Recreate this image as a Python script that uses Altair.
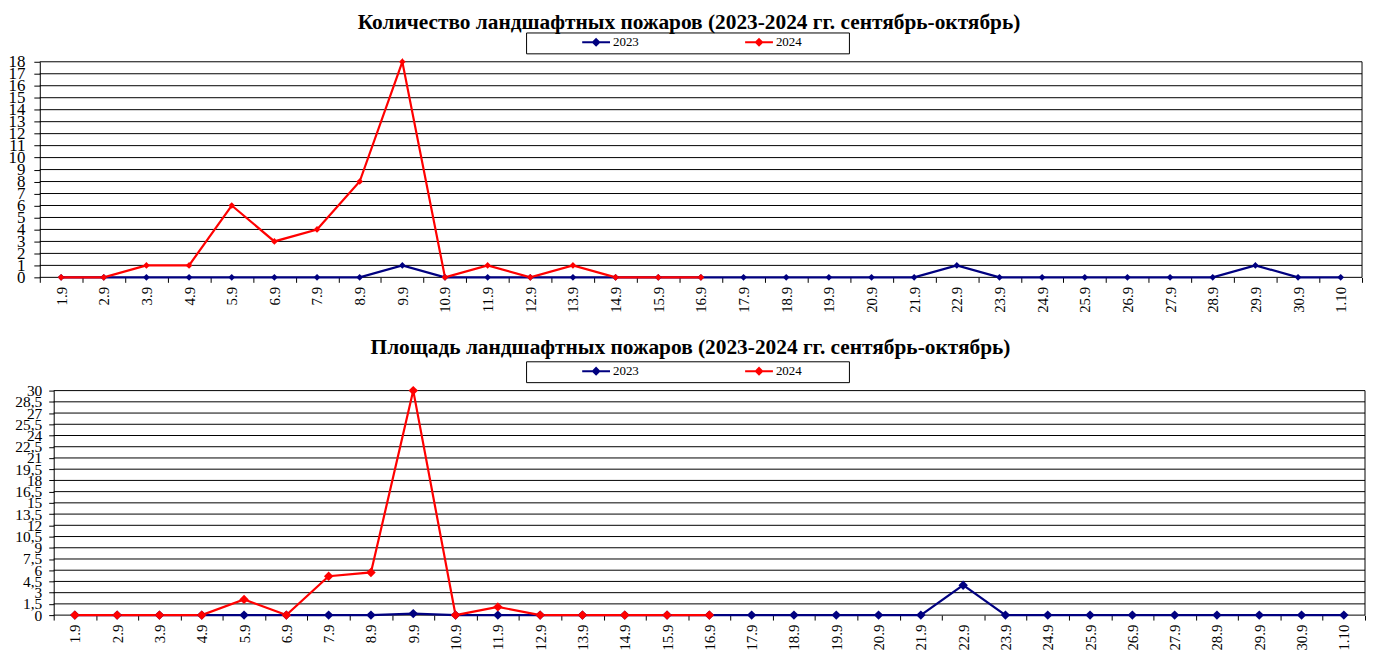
import altair as alt
import pandas as pd

days = ["1.9", "2.9", "3.9", "4.9", "5.9", "6.9", "7.9", "8.9", "9.9", "10.9",
        "11.9", "12.9", "13.9", "14.9", "15.9", "16.9", "17.9", "18.9", "19.9", "20.9",
        "21.9", "22.9", "23.9", "24.9", "25.9", "26.9", "27.9", "28.9", "29.9", "30.9",
        "1.10"]

series = ["2023", "2024"]
colors = ["#000080", "#FF0000"]

count_2023 = [0, 0, 0, 0, 0, 0, 0, 0, 1, 0,
              0, 0, 0, 0, 0, 0, 0, 0, 0, 0,
              0, 1, 0, 0, 0, 0, 0, 0, 1, 0,
              0]
count_2024 = [0, 0, 1, 1, 6, 3, 4, 8, 18, 0, 1, 0, 1, 0, 0, 0]

area_2023 = [0, 0, 0, 0, 0, 0, 0, 0, 0.2, 0,
             0, 0, 0, 0, 0, 0, 0, 0, 0, 0,
             0, 4.0, 0, 0, 0, 0, 0, 0, 0, 0,
             0]
area_2024 = [0, 0, 0, 0, 2.1, 0, 5.2, 5.7, 30, 0, 1.1, 0, 0, 0, 0, 0]

count_ticks = [0, 1, 2, 3, 4, 5, 6, 7, 8, 9, 10, 11, 12, 13, 14, 15, 16, 17, 18]
area_ticks = [0, 1.5, 3, 4.5, 6, 7.5, 9, 10.5, 12, 13.5, 15, 16.5, 18, 19.5, 21,
              22.5, 24, 25.5, 27, 28.5, 30]

title_count = "Количество ландшафтных пожаров (2023-2024 гг. сентябрь-октябрь)"
title_area = "Площадь ландшафтных пожаров (2023-2024 гг. сентябрь-октябрь)"

SERIF = "Liberation Serif"


def frame(v2023, v2024):
    rows = []
    for i, v in enumerate(v2023):
        rows.append({"day": days[i], "idx": i, "series": "2023", "value": v})
    for i, v in enumerate(v2024):
        rows.append({"day": days[i], "idx": i, "series": "2024", "value": v})
    return pd.DataFrame(rows)


def panel(df, title, ticks, ymax, width, height, shift, yfont, ypad, ytick,
          msize, legx, legy, title_offset):
    # shift: horizontal gap (px) between the group origin and the plot's left edge
    legend = alt.Legend(
        title=None, orient="none", legendX=legx, legendY=legy,
        direction="horizontal", padding=4, symbolOffset=58, columnPadding=55,
        labelOffset=9, labelFont=SERIF, labelFontSize=13, labelColor="black",
        symbolType="M-2,0L2,0M0,-0.45L0.45,0L0,0.45L-0.45,0Z",
        symbolSize=196, symbolStrokeWidth=2,
    )
    yscale = alt.Scale(domain=[0, ymax], nice=False, zero=True)
    yaxis = alt.Axis(title=None, values=ticks, labelFont=SERIF,
                     labelFontSize=yfont, labelColor="black",
                     labelPadding=ypad, tickSize=ytick, tickColor="black",
                     domainColor="black", grid=False, offset=-shift,
                     labelOverlap=False, labelFlush=False,
                     labelExpr="replace(toString(datum.value), '.', ',')")
    grid = alt.Chart(pd.DataFrame({"value": ticks})).mark_rule(
        color="black", strokeWidth=1
    ).encode(
        y=alt.Y("value:Q", scale=yscale, axis=yaxis),
        x=alt.value(shift), x2=alt.value(width),
    )
    base = alt.Chart(df).encode(
        x=alt.X("day:N", sort=days,
                scale=alt.Scale(type="band", paddingInner=0, paddingOuter=0,
                                range=[shift, width]),
                axis=alt.Axis(title=None, labelAngle=-90, labelFont=SERIF,
                              labelFontSize=15, labelColor="black", labelPadding=4,
                              tickBand="extent", tickSize=5, tickColor="black",
                              domain=False, grid=False, labelOverlap=False)),
        y=alt.Y("value:Q", scale=yscale, axis=yaxis),
        color=alt.Color("series:N", scale=alt.Scale(domain=series, range=colors),
                        legend=legend),
        order=alt.Order("idx:Q"),
    )
    one = pd.DataFrame({"k": [0]})
    right = alt.Chart(one).mark_rule(color="black", strokeWidth=1).encode(
        x=alt.value(width), y=alt.value(0), y2=alt.value(height))
    box = alt.Chart(one).mark_rect(fill="white", stroke="black", strokeWidth=1).encode(
        x=alt.value(legx), x2=alt.value(legx + 325),
        y=alt.value(legy + 3), y2=alt.value(legy + 24))
    line = base.mark_line(strokeWidth=2.2)
    pts = base.mark_point(shape="diamond", filled=True, size=msize, opacity=1)
    return alt.layer(grid, right, box, line, pts).properties(
        width=width, height=height,
        view=alt.ViewBackground(stroke=None),
        title=alt.TitleParams(title, font=SERIF, fontSize=21.5, fontWeight="bold",
                              color="black", anchor="middle", offset=title_offset,
                              dx=-12),
    )


top = panel(frame(count_2023, count_2024), title_count, count_ticks, 18,
            1331, 217, 0, 17, 9, 6, 45, 490, -32, -4)
bottom = panel(frame(area_2023, area_2024), title_area, area_ticks, 30,
               1334, 226, 14, 15.5, 7, 5, 90, 490, -32, 0)

chart = alt.vconcat(top, bottom, spacing=24).properties(
    padding={"left": 0, "top": 2, "right": 0, "bottom": 0}
).resolve_scale(color="independent")

chart.save("out.html", embed_options={"renderer": "svg", "actions": False})
